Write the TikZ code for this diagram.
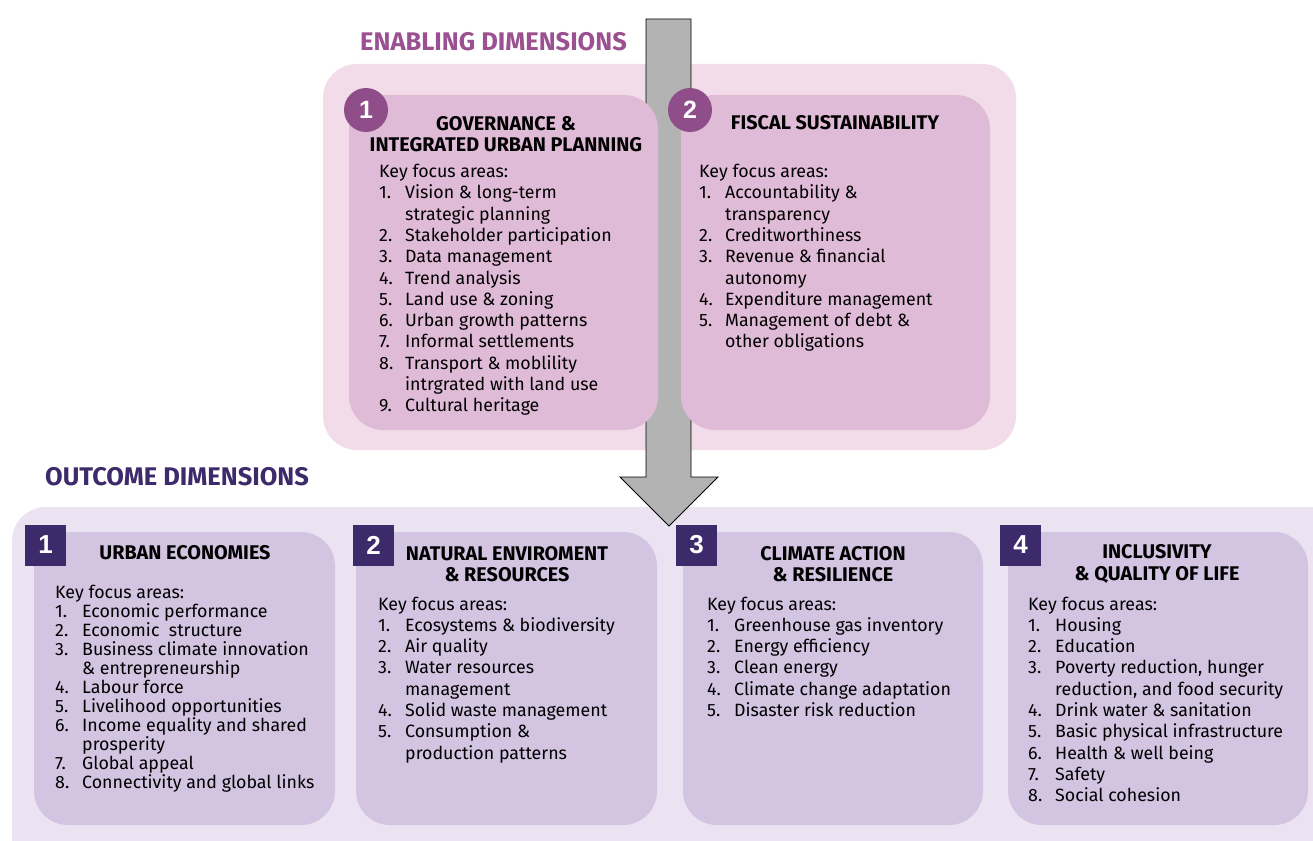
\documentclass[tikz,border=0pt]{standalone}
\usepackage{fontspec}
\setmainfont{Fira Sans}
\newfontfamily\numfont{Liberation Sans}
\definecolor{pinkouter}{RGB}{243,220,233}
\definecolor{pinkinner}{RGB}{224,187,216}
\definecolor{circlecol}{RGB}{143,78,137}
\definecolor{lavouter}{RGB}{235,227,241}
\definecolor{lavinner}{RGB}{211,196,225}
\definecolor{squarecol}{RGB}{60,42,107}
\definecolor{headpink}{RGB}{155,81,145}
\definecolor{arrowgray}{RGB}{179,179,179}
\newlength{\numw}
\setlength{\numw}{26pt}
\newcommand{\itm}[2]{\makebox[\numw][l]{#1}#2}
\newcommand{\cnt}[1]{\hspace*{\numw}#1}
\tikzset{
  outerbox/.style={rounded corners=34pt},
  innerbox/.style={rounded corners=34pt},
  body/.style={anchor=north west, inner sep=0pt, align=left, font=\fontsize{17.8}{21.3}\selectfont},
  bodytight/.style={anchor=north west, inner sep=0pt, align=left, font=\fontsize{17.8}{19}\selectfont},
  titletext/.style={inner sep=0pt, align=center, font=\fontsize{19.8}{21.5}\selectfont\bfseries},
  headtext/.style={inner sep=0pt, anchor=west, font=\fontsize{25.5}{28}\selectfont\bfseries},
  circnum/.style={circle, fill=circlecol, minimum size=44pt, inner sep=0pt, text=white, font=\numfont\fontsize{25}{25}\selectfont\bfseries},
  sqnum/.style={rectangle, fill=squarecol, minimum width=41pt, minimum height=41pt, inner sep=0pt, text=white, font=\numfont\fontsize{26}{26}\selectfont\bfseries}
}
\begin{document}
\begin{tikzpicture}[x=1pt,y=-1pt]
\useasboundingbox (0,0) rectangle (1313,840);
\clip (0,0) rectangle (1313,840);
\fill[white] (0,0) rectangle (1313,840);
% outer regions
\fill[pinkouter, outerbox] (323,64) rectangle (1016,450);
\fill[lavouter, outerbox] (12,507) rectangle (1345,880);
% arrow
\draw[fill=arrowgray, draw=black, line width=0.8pt, line join=miter]
  (646,19) -- (691,19) -- (691,477) -- (718,477) -- (669,526) -- (620,477) -- (646,477) -- cycle;
% enabling inner boxes
\fill[pinkinner, innerbox] (349,95) rectangle (658,430);
\fill[pinkinner, innerbox] (681,95) rectangle (990,430);
\node[circnum] (c1) at (366,110) {1};
\node[circnum] (c2) at (690,110) {2};
% outcome inner boxes
\fill[lavinner, innerbox] (34,532) rectangle (335,825);
\fill[lavinner, innerbox] (356,532) rectangle (657,825);
\fill[lavinner, innerbox] (683,532) rectangle (983,825);
\fill[lavinner, innerbox] (1008,532) rectangle (1308,825);
\node[sqnum] (s1) at (45.5,545) {1};
\node[sqnum] (s2) at (373.5,545) {2};
\node[sqnum] (s3) at (696.5,545) {3};
\node[sqnum] (s4) at (1020.5,545) {4};
% headings
\node[headtext, text=headpink] (hen) at (360,42) {ENABLING DIMENSIONS};
\node[headtext, text=squarecol] (hout) at (45,477) {OUTCOME DIMENSIONS};
% titles
\node[titletext] (te1) at (506,134) {GOVERNANCE \&\\INTEGRATED URBAN PLANNING};
\node[titletext] (te2) at (835,123) {FISCAL SUSTAINABILITY};
\node[titletext] (to1) at (185,553) {URBAN ECONOMIES};
\node[titletext] (to2) at (507,564) {NATURAL ENVIROMENT\\\& RESOURCES};
\node[titletext] (to3) at (833,564) {CLIMATE ACTION\\\& RESILIENCE};
\node[titletext] (to4) at (1157,564) {INCLUSIVITY\\\& QUALITY OF LIFE};
% bodies
\node[body] (be1) at (379,164) {Key focus areas:\\
\itm{1.}{Vision \& long-term}\\
\cnt{strategic planning}\\
\itm{2.}{Stakeholder participation}\\
\itm{3.}{Data management}\\
\itm{4.}{Trend analysis}\\
\itm{5.}{Land use \& zoning}\\
\itm{6.}{Urban growth patterns}\\
\itm{7.}{Informal settlements}\\
\itm{8.}{Transport \& moblility}\\
\cnt{intrgrated with land use}\\
\itm{9.}{Cultural heritage}};
\node[body] (be2) at (699,164) {Key focus areas:\\
\itm{1.}{Accountability \&}\\
\cnt{transparency}\\
\itm{2.}{Creditworthiness}\\
\itm{3.}{Revenue \& financial}\\
\cnt{autonomy}\\
\itm{4.}{Expenditure management}\\
\itm{5.}{Management of debt \&}\\
\cnt{other obligations}};
\setlength{\numw}{27pt}
\node[bodytight] (bo1) at (55,585) {Key focus areas:\\
\itm{1.}{Economic performance}\\
\itm{2.}{Economic\ \ structure}\\
\itm{3.}{Business climate innovation}\\
\cnt{\& entrepreneurship}\\
\itm{4.}{Labour force}\\
\itm{5.}{Livelihood opportunities}\\
\itm{6.}{Income equality and shared}\\
\cnt{prosperity}\\
\itm{7.}{Global appeal}\\
\itm{8.}{Connectivity and global links}};
\node[body] (bo2) at (378,596.5) {Key focus areas:\\
\itm{1.}{Ecosystems \& biodiversity}\\
\itm{2.}{Air quality}\\
\itm{3.}{Water resources}\\
\cnt{management}\\
\itm{4.}{Solid waste management}\\
\itm{5.}{Consumption \&}\\
\cnt{production patterns}};
\node[body] (bo3) at (707,596.5) {Key focus areas:\\
\itm{1.}{Greenhouse gas inventory}\\
\itm{2.}{Energy efficiency}\\
\itm{3.}{Clean energy}\\
\itm{4.}{Climate change adaptation}\\
\itm{5.}{Disaster risk reduction}};
\node[body] (bo4) at (1028,596.5) {Key focus areas:\\
\itm{1.}{Housing}\\
\itm{2.}{Education}\\
\itm{3.}{Poverty reduction, hunger}\\
\cnt{reduction, and food security}\\
\itm{4.}{Drink water \& sanitation}\\
\itm{5.}{Basic physical infrastructure}\\
\itm{6.}{Health \& well being}\\
\itm{7.}{Safety}\\
\itm{8.}{Social cohesion}};
\end{tikzpicture}
\end{document}
